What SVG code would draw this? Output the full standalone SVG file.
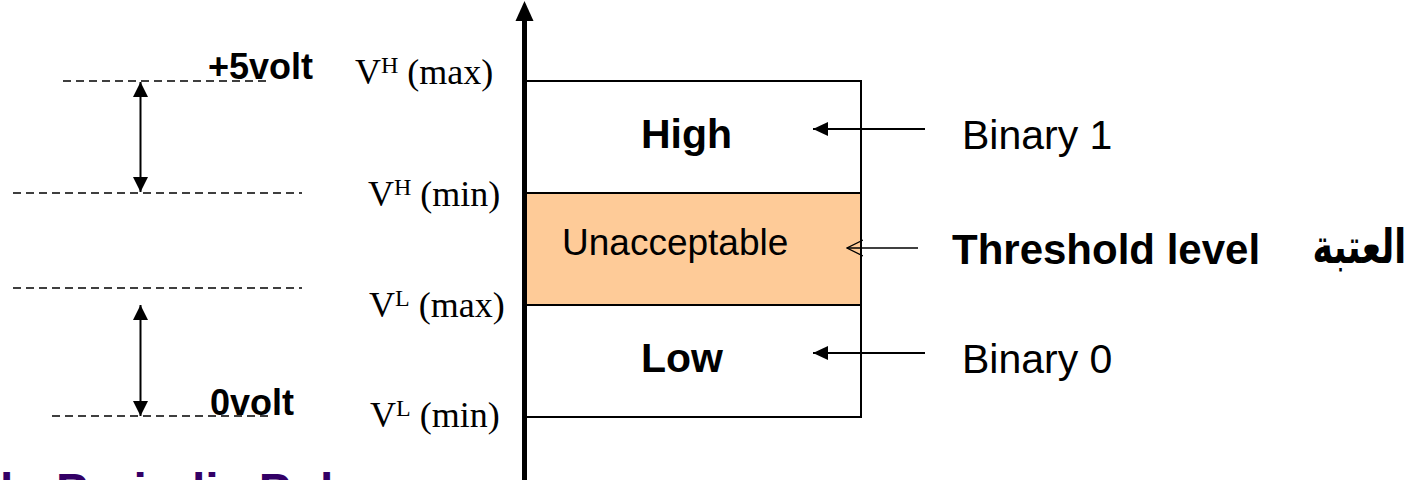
<svg xmlns="http://www.w3.org/2000/svg" width="1421" height="480" viewBox="0 0 1421 480">
<style>
.dash{stroke:#000;stroke-width:1.4;stroke-dasharray:8 5;fill:none}
.ln{stroke:#000;stroke-width:2;fill:none}
.thin{stroke:#000;stroke-width:1.3;fill:none}
.tnr{font-family:"Liberation Serif","Times New Roman",serif;font-size:36px;fill:#000}
.sb{font-family:"Liberation Sans",Arial,sans-serif;font-weight:bold;fill:#000}
.sr{font-family:"Liberation Sans",Arial,sans-serif;fill:#000}
</style>
<defs>
<marker id="fh" markerWidth="15" markerHeight="14" refX="15" refY="7" orient="auto" markerUnits="userSpaceOnUse">
<polygon points="0,0 15,7 0,14" fill="#000"/>
</marker>
<marker id="fhs" markerWidth="15" markerHeight="15" refX="15" refY="7.5" orient="auto-start-reverse" markerUnits="userSpaceOnUse">
<polygon points="0,0 15,7.5 0,15" fill="#000"/>
</marker>
<marker id="oh" markerWidth="17" markerHeight="18" refX="16" refY="9" orient="auto" markerUnits="userSpaceOnUse">
<polyline points="0,1 16,9 0,17" fill="none" stroke="#000" stroke-width="1.3"/>
</marker>
</defs>

<g id="levels">
<line class="dash" x1="63" y1="81" x2="268" y2="81"/>
<line class="dash" x1="13" y1="193" x2="302" y2="193"/>
<line class="dash" x1="13" y1="288" x2="302" y2="288"/>
<line class="dash" x1="52" y1="416" x2="268" y2="416"/>
</g>

<g id="box">
<rect x="526" y="81" width="335" height="112" fill="#fff" stroke="#000" stroke-width="2"/>
<rect x="526" y="193" width="335" height="112" fill="#FECB98" stroke="#000" stroke-width="2"/>
<rect x="526" y="305" width="335" height="112" fill="#fff" stroke="#000" stroke-width="2"/>
<text class="sb" x="641" y="148" font-size="41">High</text>
<text class="sr" x="562" y="255" font-size="37">Unacceptable</text>
<text class="sb" x="641" y="372" font-size="41">Low</text>
</g>

<g id="axis">
<line x1="524.5" y1="18" x2="524.5" y2="480" stroke="#000" stroke-width="5"/>
<polygon points="524.5,1 515.5,21 533.5,21" fill="#000"/>
</g>

<g id="connectors">
<line class="ln" x1="925" y1="129" x2="813" y2="129" marker-end="url(#fh)"/>
<line class="thin" x1="918" y1="248" x2="847" y2="248" marker-end="url(#oh)"/>
<line class="ln" x1="925" y1="353" x2="813" y2="353" marker-end="url(#fh)"/>
<line class="ln" x1="140.5" y1="82" x2="140.5" y2="192" marker-start="url(#fhs)" marker-end="url(#fhs)"/>
<line class="ln" x1="140.5" y1="305" x2="140.5" y2="416" marker-start="url(#fhs)" marker-end="url(#fhs)"/>
</g>

<g id="labels">
<text class="sb" x="208" y="79" font-size="36">+5volt</text>
<text class="sb" x="210" y="415" font-size="36">0volt</text>
<text class="tnr" x="355" y="84">V<tspan font-size="24" dy="-11">H</tspan><tspan dy="11"> (max)</tspan></text>
<text class="tnr" x="368" y="206">V<tspan font-size="24" dy="-11">H</tspan><tspan dy="11"> (min)</tspan></text>
<text class="tnr" x="369" y="317">V<tspan font-size="24" dy="-11">L</tspan><tspan dy="11"> (max)</tspan></text>
<text class="tnr" x="370" y="427">V<tspan font-size="24" dy="-11">L</tspan><tspan dy="11"> (min)</tspan></text>
</g>

<g id="right-labels">
<text class="sr" x="962" y="149" font-size="41">Binary 1</text>
<text class="sb" x="952" y="264" font-size="42">Threshold level</text>
<text transform="translate(1406,263) scale(0.72,1)" x="0" y="0" text-anchor="end" font-family="'DejaVu Sans','Noto Sans',sans-serif" font-weight="bold" font-size="48" fill="#000">العتبة</text>
<text class="sr" x="962" y="373" font-size="41">Binary 0</text>
</g>

<text x="0" y="507" font-family="'Liberation Sans',Arial,sans-serif" font-weight="bold" font-size="48" fill="#330066">b. Periodic Pulse</text>
</svg>
